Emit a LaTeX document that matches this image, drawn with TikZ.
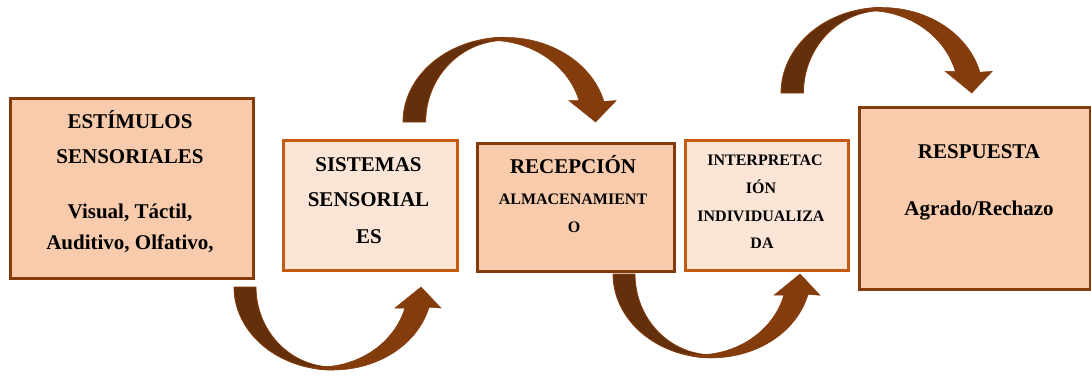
\documentclass[tikz,border=0pt]{standalone}
\usepackage{fontspec}
\setmainfont{Liberation Serif}[BoldFont={Liberation Serif Bold}]
\definecolor{peach}{HTML}{F7CBAC}
\definecolor{lightpeach}{HTML}{FBE5D6}
\definecolor{darkbrown}{HTML}{843C0C}
\definecolor{orangeb}{HTML}{C55A11}
\definecolor{backbrown}{HTML}{64300B}
\tikzset{
  darkbox/.style={draw=darkbrown, line width=2.5pt, fill=peach, anchor=north west, inner sep=0pt},
  lightbox/.style={draw=orangeb, line width=2.5pt, fill=lightpeach, anchor=north west, inner sep=0pt},
  bigtxt/.style={font=\rmfamily\bfseries\fontsize{21}{21}\selectfont, anchor=base, inner sep=0pt},
  smalltxt/.style={font=\rmfamily\bfseries\fontsize{16}{16}\selectfont, anchor=base, inner sep=0pt},
  arrowback/.style={fill=backbrown, draw=darkbrown, line width=0.8pt},
  arrowfront/.style={fill=darkbrown, draw=darkbrown, line width=0.5pt},
}
\newcommand{\curvedarrowshape}{%
  \path[arrowback] (0,0)
    -- plot[domain=180:90, samples=40] ({99+99*cos(\x)}, {83*sin(\x)})
    -- plot[domain=90:180, samples=40] ({99+77*cos(\x)}, {80*sin(\x)})
    -- cycle;
  \path[arrowfront] plot[domain=100:14.1, samples=50] ({99+99*cos(\x)}, {83*sin(\x)})
    -- (207,21) -- (187,0) -- (161,21) -- (171,21)
    -- plot[domain=15.2:100, samples=50] ({85+89*cos(\x)}, {80*sin(\x)})
    -- cycle;
}
\begin{document}
\begin{tikzpicture}[x=1pt, y=-1pt]
\useasboundingbox[fill=white] (0,0) rectangle (1091,376);
% boxes
\node[darkbox, minimum width=243pt, minimum height=180pt] (b1) at (9,97) {};
\node[lightbox, minimum width=174pt, minimum height=130pt] (b2) at (282,139) {};
\node[darkbox, minimum width=197pt, minimum height=128pt] (b3) at (476,142) {};
\node[lightbox, minimum width=163pt, minimum height=130pt] (b4) at (684,139) {};
\node[darkbox, minimum width=231pt, minimum height=182pt] (b5) at (858,106) {};
% texts
\node[bigtxt] (t1a) at (130,128) {ESTÍMULOS};
\node[bigtxt] (t1b) at (130,163) {SENSORIALES};
\node[bigtxt] (t1c) at (130,218) {Visual, Táctil,};
\node[bigtxt] (t1d) at (130,249) {Auditivo, Olfativo,};
\node[bigtxt] (t2a) at (368.5,171) {SISTEMAS};
\node[bigtxt] (t2b) at (368.5,206) {SENSORIAL};
\node[bigtxt] (t2c) at (369,243) {ES};
\node[bigtxt] (t3a) at (573,173) {RECEPCIÓN};
\node[smalltxt] (t3b) at (573,204) {ALMACENAMIENT};
\node[smalltxt] (t3c) at (574,232) {O};
\node[smalltxt] (t4a) at (765,165) {INTERPRETAC};
\node[smalltxt] (t4b) at (761,193) {IÓN};
\node[smalltxt] (t4c) at (761,221) {INDIVIDUALIZA};
\node[smalltxt] (t4d) at (762,248) {DA};
\node[bigtxt] (t5a) at (979,158) {RESPUESTA};
\node[bigtxt] (t5b) at (979,215) {Agrado/Rechazo};
% curved arrows
\begin{scope}[shift={(234,287)}]
  \curvedarrowshape
\end{scope}
\begin{scope}[shift={(403,122)}, xscale=1.03, yscale=-1.02]
  \curvedarrowshape
\end{scope}
\begin{scope}[shift={(613,274)}, yscale=1.01]
  \curvedarrowshape
\end{scope}
\begin{scope}[shift={(781,93)}, xscale=1.02, yscale=-1.03]
  \curvedarrowshape
\end{scope}
\end{tikzpicture}
\end{document}
